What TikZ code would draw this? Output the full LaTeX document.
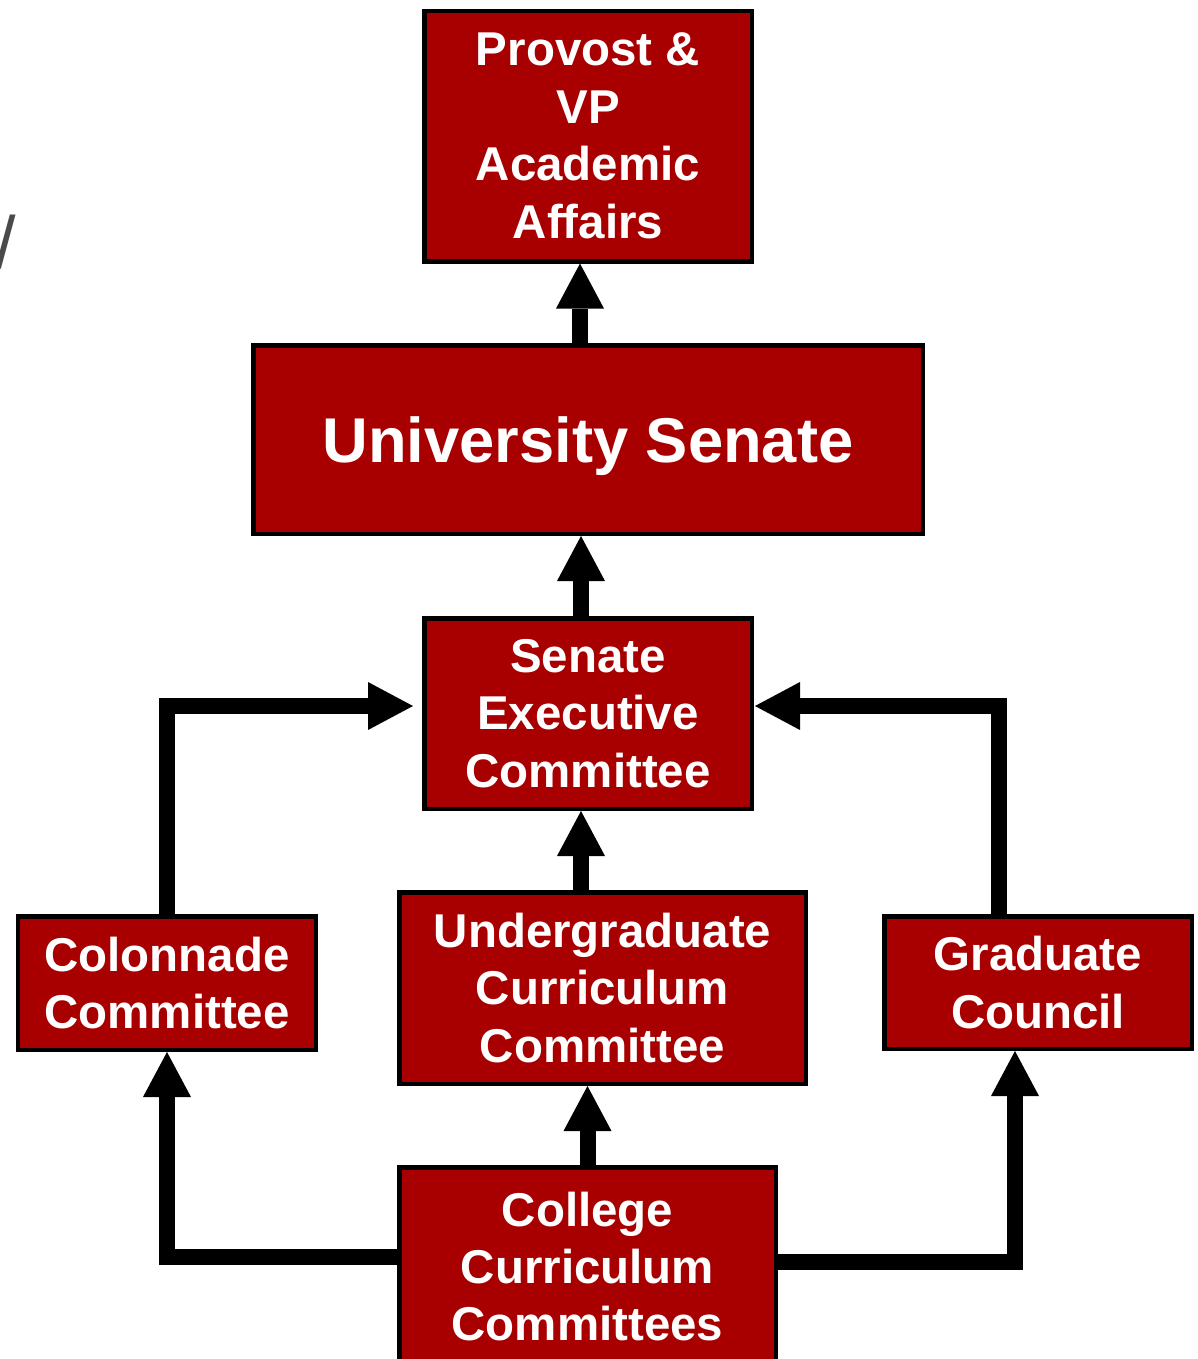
\documentclass[tikz,border=0pt]{standalone}
\usepackage{fontspec}
\setmainfont{Liberation Sans}
\usepackage{tikz}
\usetikzlibrary{arrows.meta, positioning, calc}
\usepackage{xcolor}
\definecolor{WKURed}{HTML}{A80000}
\definecolor{WKUBlack}{HTML}{000000}
\definecolor{WKUWhite}{HTML}{FFFFFF}
\definecolor{WKUGray}{HTML}{4A4A4A}
\tikzset{
    % Box styles - sharp corners
    office/.style={
        rectangle,
        draw=WKUBlack,
        fill=WKURed,
        text=WKUWhite,
        line width=0.09cm,
        inner sep=0pt,
        align=center,
        font=\fontsize{27}{32.7}\selectfont\bfseries
    },
    senatebox/.style={
        office,
        text height=1.1cm,
        text depth=0.2cm,
        font=\fontsize{36}{42}\selectfont\bfseries
    },
    % Arrow style - thick black
    arrow/.style={
        -{Triangle[width=0.96cm, length=0.9cm, line width=0pt]},
        line width=0.32cm,
        draw=WKUBlack
    }
}
\begin{document}
\begin{tikzpicture}
    \useasboundingbox (0,0) rectangle (23.96,-27.18);

    % Stray slash at the left edge
    \node[text=WKUGray, inner sep=0pt, font=\fontsize{42}{42}\selectfont] (slash) at (0.12,-4.84) {/};

    % Top of the chain
    \node[office, minimum width=6.55cm, minimum height=5.01cm] (provost) at (11.76,-2.72) {Provost \&\\VP\\Academic\\Affairs};
    \node[senatebox, minimum width=13.39cm, minimum height=3.77cm] (senate) at (11.76,-8.79) {University Senate};
    \node[office, minimum width=6.55cm, minimum height=3.81cm] (exec) at (11.76,-14.27) {Senate\\Executive\\Committee};

    % Committees
    \node[office, minimum width=5.95cm, minimum height=2.67cm] (colonnade) at (3.34,-19.66) {Colonnade\\Committee};
    \node[office, minimum width=8.13cm, minimum height=3.83cm] (ucc) at (12.05,-19.76) {Undergraduate\\Curriculum\\Committee};
    \node[office, minimum width=6.15cm, minimum height=2.65cm] (grad) at (20.76,-19.65) {Graduate\\Council};
    \node[office, minimum width=7.53cm, minimum height=3.97cm] (college) at (11.75,-25.33) {College\\Curriculum\\Committees};

    % Straight arrows up the middle
    \draw[arrow] ([xshift=-0.16cm]senate.north) -- ([xshift=-0.16cm]senate.north |- provost.south);
    \draw[arrow] ([xshift=-0.14cm]exec.north) -- ([xshift=-0.14cm]exec.north |- senate.south);
    \draw[arrow] ([xshift=-0.14cm]exec.south |- ucc.north) -- ([xshift=-0.14cm]exec.south);
    \draw[arrow] (college.north) -- (college.north |- ucc.south);

    % Elbow arrows
    \draw[arrow] (colonnade.north) |- ([xshift=-0.18cm, yshift=0.15cm]exec.west);
    \draw[arrow] ([xshift=-0.78cm]grad.north) |- ([xshift=0.02cm, yshift=0.15cm]exec.east);
    \draw[arrow] ([yshift=0.19cm]college.west) -| (colonnade.south);
    \draw[arrow] ([yshift=0.09cm]college.east) -| ([xshift=-0.46cm]grad.south);
\end{tikzpicture}
\end{document}
